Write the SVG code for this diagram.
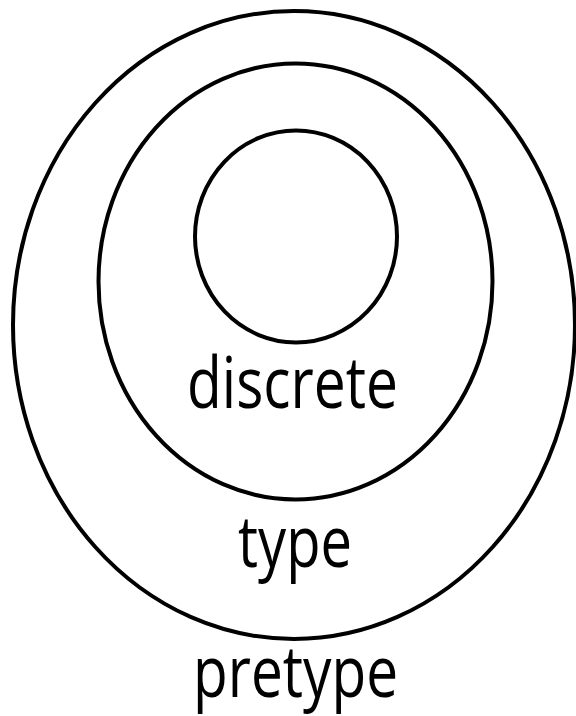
<svg xmlns="http://www.w3.org/2000/svg" width="576" height="716" viewBox="0 0 576 716">
<style>
.ring{fill:none;stroke:#000;stroke-width:4}
.lbl{font-family:"Open Sans","Noto Sans",sans-serif;font-size:72px;font-weight:500;fill:#000;text-anchor:middle}
</style>
<rect width="576" height="716" fill="#fff"/>
<g id="pretype">
<ellipse class="ring" cx="294" cy="325" rx="281" ry="314"/>
<text class="lbl" x="295.5" y="697" textLength="205" lengthAdjust="spacingAndGlyphs">pretype</text>
</g>
<g id="type">
<ellipse class="ring" cx="295.5" cy="281.5" rx="197" ry="218"/>
<text class="lbl" x="295" y="567" textLength="114" lengthAdjust="spacingAndGlyphs">type</text>
</g>
<g id="discrete">
<ellipse class="ring" cx="296" cy="236.5" rx="101" ry="106"/>
<text class="lbl" x="292.5" y="408" textLength="211" lengthAdjust="spacingAndGlyphs">discrete</text>
</g>
<g id="connectors"/>
</svg>
